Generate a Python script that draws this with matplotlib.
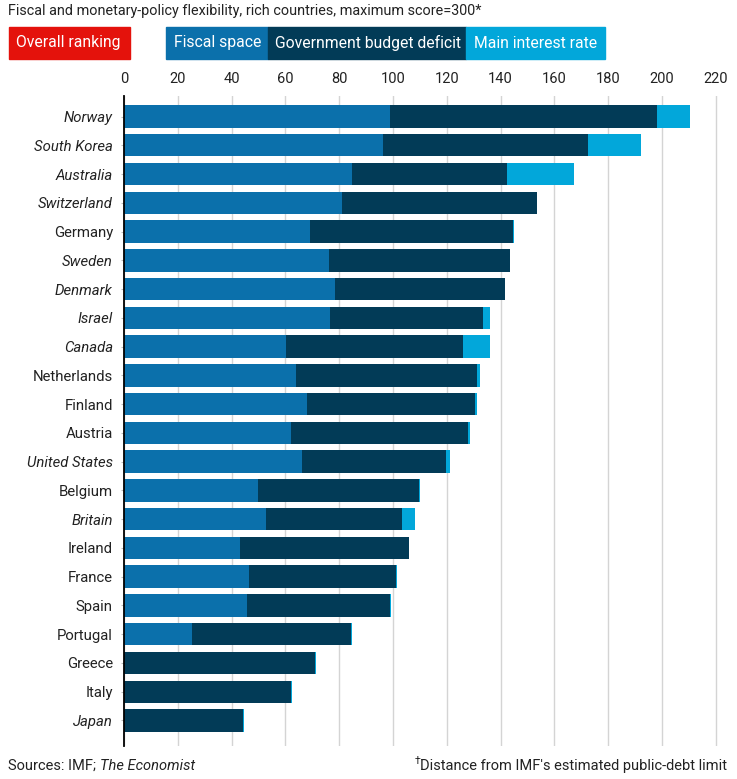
import numpy as np
import matplotlib.pyplot as plt
from matplotlib.patches import Rectangle

plt.rcParams['font.family'] = ['Roboto', 'DejaVu Sans']

# Data (segment lengths, score units)
countries = ['Norway', 'South Korea', 'Australia', 'Switzerland', 'Germany', 'Sweden',
             'Denmark', 'Israel', 'Canada', 'Netherlands', 'Finland', 'Austria',
             'United States', 'Belgium', 'Britain', 'Ireland', 'France', 'Spain',
             'Portugal', 'Greece', 'Italy', 'Japan']
fiscal_space = [98.8, 96.3, 84.6, 81.2, 69.0, 76.1, 78.4, 76.7, 60.1, 63.8, 68.0,
                62.1, 66.3, 49.7, 52.7, 43.1, 46.4, 45.7, 25.3, 0, 0, 0]
budget_deficit = [99.4, 76.2, 57.8, 72.3, 75.7, 67.6, 63.2, 56.9, 65.9, 67.5, 62.6,
                  65.9, 53.5, 60.1, 50.6, 62.7, 54.9, 53.2, 59.0, 71.0, 62.1, 44.2]
interest_rate = [12.3, 19.8, 25.0, 0, 0.4, 0, 0, 2.5, 10.1, 1.0, 0.5,
                 0.6, 1.3, 0.4, 5.0, 0.3, 0.3, 0.3, 0.3, 0.3, 0.3, 0.3]
italic_countries = ['Norway', 'South Korea', 'Australia', 'Switzerland', 'Sweden',
                    'Denmark', 'Israel', 'Canada', 'United States', 'Britain', 'Japan']
x_ticks = [0, 20, 40, 60, 80, 100, 120, 140, 160, 180, 200, 220]

c_fiscal = '#0b70ab'
c_deficit = '#023b57'
c_rate = '#02a7da'
c_red = '#e4120c'

W, H = 737, 779
def fx(x):
    return x / W
def fy(y):
    return 1 - y / H

fig = plt.figure(figsize=(W / 100, H / 100), dpi=100)
ax = fig.add_axes([fx(124), fy(746), 603 / W, (746 - 96) / H])

y = np.arange(len(countries))
fs = np.array(fiscal_space)
bd = np.array(budget_deficit)
ir = np.array(interest_rate)
ax.barh(y, fs, height=0.78, color=c_fiscal, zorder=2)
ax.barh(y, bd, left=fs, height=0.78, color=c_deficit, zorder=2)
ax.barh(y, ir, left=fs + bd, height=0.78, color=c_rate, zorder=2)

ax.set_xlim(0, 224.2)
ax.set_ylim(21.887, -0.713)
ax.xaxis.tick_top()
ax.set_xticks(x_ticks)
ax.tick_params(axis='x', length=0, pad=7, labelsize=10.5, labelcolor='#222222')
ax.xaxis.grid(True, color='#d4d4d4', linewidth=1)
ax.set_axisbelow(True)
ax.set_yticks(y)
ax.set_yticklabels(countries)
ax.tick_params(axis='y', length=2, width=0.8, color='#bbbbbb', pad=6,
               labelsize=10.7, labelcolor='#222222')
for lab in ax.get_yticklabels():
    if lab.get_text() in italic_countries:
        lab.set_style('italic')
for s in ['top', 'right', 'bottom']:
    ax.spines[s].set_visible(False)
ax.spines['left'].set_color('black')
ax.spines['left'].set_linewidth(1.3)

# title
fig.text(fx(8), fy(11), 'Fiscal and monetary-policy flexibility, rich countries, maximum score=300*',
         fontsize=10.4, color='#222222', va='center', ha='left')

# legend boxes
boxes = [(9, 130, c_red), (166, 268, c_fiscal), (268, 466, c_deficit), (466, 605, c_rate)]
for x0, x1, col in boxes:
    fig.patches.append(Rectangle((fx(x0), fy(59)), (x1 - x0) / W, 32 / H,
                                 transform=fig.transFigure, color=col, zorder=0))
fig.text(fx(16), fy(43), 'Overall ranking', color='white', fontsize=11.3, va='center')
t_fs = fig.text(fx(174), fy(43), 'Fiscal space', color='white', fontsize=11.3, va='center')
ax.annotate('†', xy=(1, 1), xycoords=t_fs, fontsize=7.5, color='white',
            ha='left', va='top', xytext=(1, 1), textcoords='offset points')
fig.text(fx(275), fy(43), 'Government budget deficit', color='white', fontsize=11.3, va='center')
fig.text(fx(474), fy(43), 'Main interest rate', color='white', fontsize=11.3, va='center')

# footer
t_src = fig.text(fx(8), fy(766), 'Sources: IMF; ', fontsize=10.5, color='#222222',
                 va='center', ha='left')
ax.annotate('The Economist', xy=(1, 0), xycoords=t_src, fontsize=10.5, color='#222222',
            style='italic', ha='left', va='bottom')
t_note = fig.text(fx(727), fy(766), "Distance from IMF's estimated public-debt limit",
                  fontsize=10.5, color='#222222', va='center', ha='right')
ax.annotate('†', xy=(0, 1), xycoords=t_note, fontsize=7.5, color='#222222',
            ha='right', va='top', xytext=(0, 2), textcoords='offset points')

fig.savefig('out.png', dpi=100)
